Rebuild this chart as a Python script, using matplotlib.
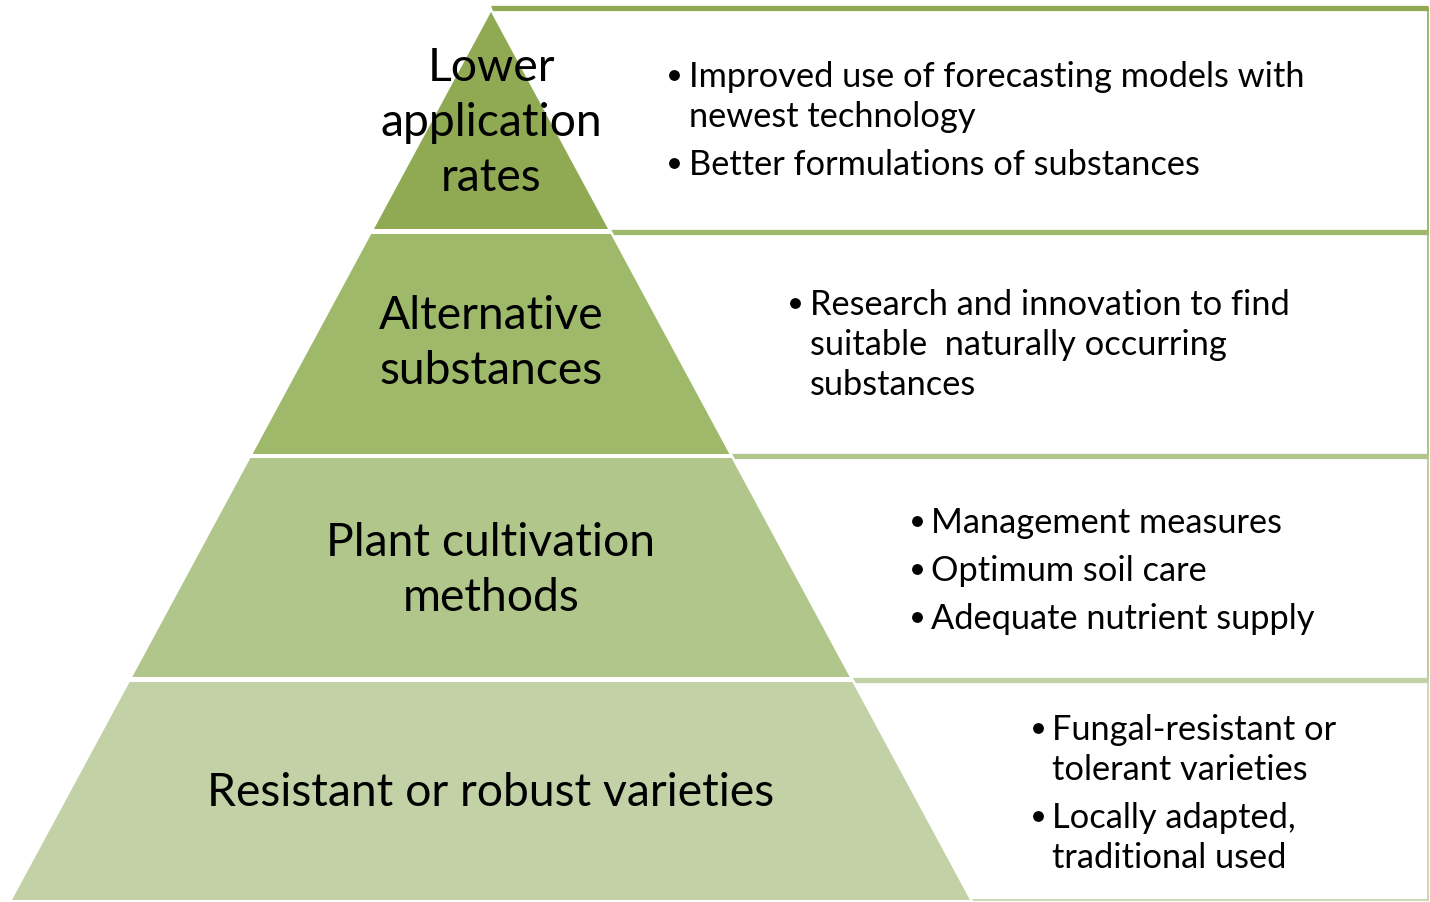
import matplotlib
matplotlib.use("Agg")
from matplotlib import pyplot as plt
from matplotlib.patches import Polygon

# pyramid levels, top to bottom
level_labels = [
    ["Lower", "application", "rates"],
    ["Alternative", "substances"],
    ["Plant cultivation", "methods"],
    ["Resistant or robust varieties"],
]
level_bullets = [
    [["Improved use of forecasting models with", "newest technology"],
     ["Better formulations of substances"]],
    [["Research and innovation to find", "suitable  naturally occurring", "substances"]],
    [["Management measures"], ["Optimum soil care"], ["Adequate nutrient supply"]],
    [["Fungal-resistant or", "tolerant varieties"], ["Locally adapted,", "traditional used"]],
]
level_colors = ["#8FAA53", "#9EB96A", "#B0C68A", "#C2D2A6"]

# layout (pixels, y downwards)
W, H = 1430, 903
apex_x, apex_y, base_y, half_base = 491, 13, 901, 479
layer_top = [13, 235, 459, 683]
layer_bot = [230, 455, 678, 901]
box_top = [8.5, 232.5, 457, 681]
box_right = 1427.5
label_first = [81, 329, 556, 806]
label_step = 55
bullet_x = [674, 795, 917, 1038]
text_x = [689, 810, 931, 1052]
bullet_first = [87, 315, 533, 740]
wrap_step, item_step = 40, 48

FONT = "Lato"
fig = plt.figure(figsize=(W / 100, H / 100), dpi=100)
ax = fig.add_axes([0, 0, 1, 1])
ax.set_xlim(0, W)
ax.set_ylim(H, 0)
ax.axis("off")


def fit_size(s, target):
    t = fig.text(0, 0, s, fontsize=20, family=FONT)
    w = t.get_window_extent(fig.canvas.get_renderer()).width
    t.remove()
    return 20 * target / w


label_fs = fit_size("Resistant or robust varieties", 570)
bullet_fs = fit_size("Improved use of forecasting models with", 616)


def edge_x(y):
    return half_base * (y - apex_y) / (base_y - apex_y)


# boxes on the right, behind the pyramid
for i, c in enumerate(level_colors):
    top = box_top[i]
    bot = box_top[i + 1] if i + 1 < len(box_top) else 901
    ax.plot([apex_x, box_right], [top, top], color=c, lw=3.8, solid_capstyle="butt", zorder=1)
    ax.plot([box_right, box_right], [top, bot], color=c, lw=1.2, zorder=1)
ax.plot([apex_x, box_right], [901.5, 901.5], color=level_colors[-1], lw=1.2, zorder=1)

# white halo around the pyramid
ax.add_patch(Polygon([(apex_x, apex_y), (apex_x - half_base, base_y), (apex_x + half_base, base_y)],
                     closed=True, facecolor="white", edgecolor="white", lw=3.5, zorder=2))

for i, c in enumerate(level_colors):
    t, b = layer_top[i], layer_bot[i]
    pts = [(apex_x - edge_x(t), t), (apex_x + edge_x(t), t),
           (apex_x + edge_x(b), b), (apex_x - edge_x(b), b)]
    ax.add_patch(Polygon(pts, closed=True, facecolor=c, edgecolor="none", zorder=3))

    for k, line in enumerate(level_labels[i]):
        ax.text(apex_x, label_first[i] + k * label_step, line, ha="center", va="baseline",
                fontsize=label_fs, family=FONT, color="black", zorder=5)

    y = bullet_first[i]
    for item in level_bullets[i]:
        ax.plot(bullet_x[i], y - 11, "o", ms=7.8, color="black", mec="none", zorder=5)
        for line in item:
            ax.text(text_x[i], y, line, ha="left", va="baseline",
                    fontsize=bullet_fs, family=FONT, color="black", zorder=5)
            y += wrap_step
        y += item_step - wrap_step

fig.savefig("out.png", dpi=100, facecolor="white")
